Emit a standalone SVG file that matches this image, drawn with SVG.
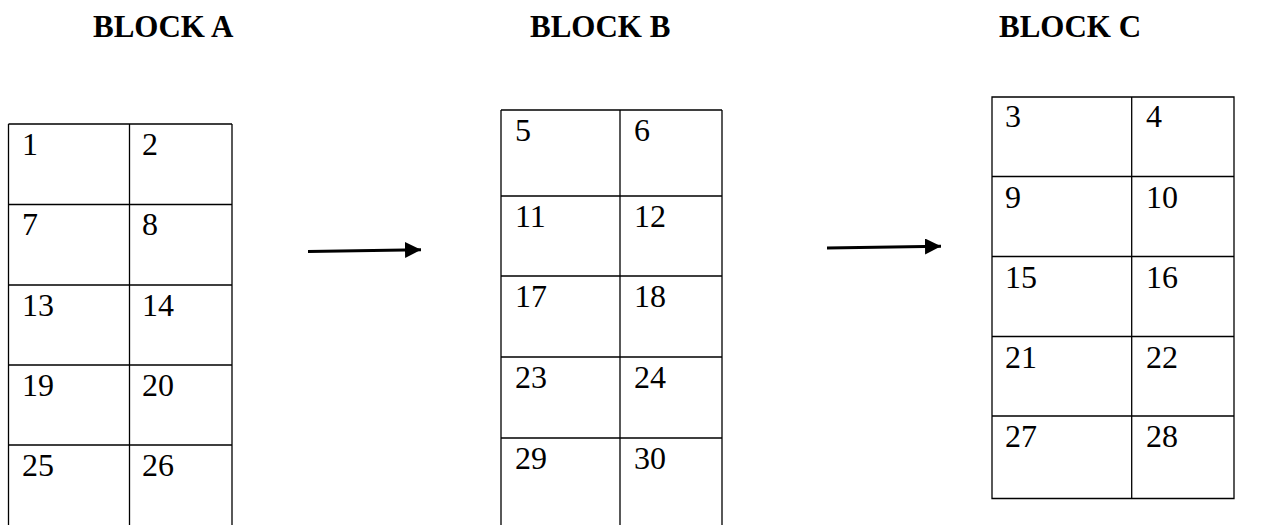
<svg xmlns="http://www.w3.org/2000/svg" width="1278" height="525" viewBox="0 0 1278 525">
<style>
.t{font-family:"Liberation Serif","Times New Roman",serif;font-size:32px;fill:#000}
.h{font-family:"Liberation Serif","Times New Roman",serif;font-size:31px;font-weight:bold;fill:#000}
.g{fill:none;stroke:#000;stroke-width:1.3}
.c{stroke:#000;stroke-width:3;fill:none}
</style>
<defs>
<marker id="ah" markerUnits="userSpaceOnUse" markerWidth="18" markerHeight="18" refX="16" refY="8" orient="auto">
<path d="M0,0 L16,8 L0,16 Z" fill="#000"/>
</marker>
</defs>
<rect width="1278" height="525" fill="#fff"/>
<g id="blockA">
<text class="h" x="93" y="37">BLOCK A</text>
<path class="g" d="M8.5,124 H232 M8.5,124 V526 M129.5,124 V526 M232,124 V526 M8.5,204.5 H232 M8.5,285 H232 M8.5,365 H232 M8.5,445 H232"/>
<text class="t" x="22" y="155">1</text><text class="t" x="142" y="155">2</text>
<text class="t" x="22" y="235">7</text><text class="t" x="142" y="235">8</text>
<text class="t" x="22" y="316">13</text><text class="t" x="142" y="316">14</text>
<text class="t" x="22" y="396">19</text><text class="t" x="142" y="396">20</text>
<text class="t" x="22" y="476">25</text><text class="t" x="142" y="476">26</text>
</g>
<g id="blockB">
<text class="h" x="530" y="37">BLOCK B</text>
<path class="g" d="M501,110 H722 M501,110 V526 M620,110 V526 M722,110 V526 M501,196 H722 M501,276 H722 M501,357 H722 M501,438 H722"/>
<text class="t" x="515" y="141">5</text><text class="t" x="634" y="141">6</text>
<text class="t" x="515" y="227">11</text><text class="t" x="634" y="227">12</text>
<text class="t" x="515" y="307">17</text><text class="t" x="634" y="307">18</text>
<text class="t" x="515" y="388">23</text><text class="t" x="634" y="388">24</text>
<text class="t" x="515" y="469">29</text><text class="t" x="634" y="469">30</text>
</g>
<g id="blockC">
<text class="h" x="999" y="37">BLOCK C</text>
<path class="g" d="M992,97 H1234 V498.5 H992 Z M1131.7,97 V498.5 M992,176.5 H1234 M992,256.5 H1234 M992,336.5 H1234 M992,416 H1234"/>
<text class="t" x="1005" y="127">3</text><text class="t" x="1146" y="127">4</text>
<text class="t" x="1005" y="208">9</text><text class="t" x="1146" y="208">10</text>
<text class="t" x="1005" y="288">15</text><text class="t" x="1146" y="288">16</text>
<text class="t" x="1005" y="368">21</text><text class="t" x="1146" y="368">22</text>
<text class="t" x="1005" y="447">27</text><text class="t" x="1146" y="447">28</text>
</g>
<g id="connectors">
<line class="c" x1="308" y1="251.5" x2="421" y2="249.8" marker-end="url(#ah)"/>
<line class="c" x1="827" y1="248" x2="941" y2="246.3" marker-end="url(#ah)"/>
</g>
</svg>
